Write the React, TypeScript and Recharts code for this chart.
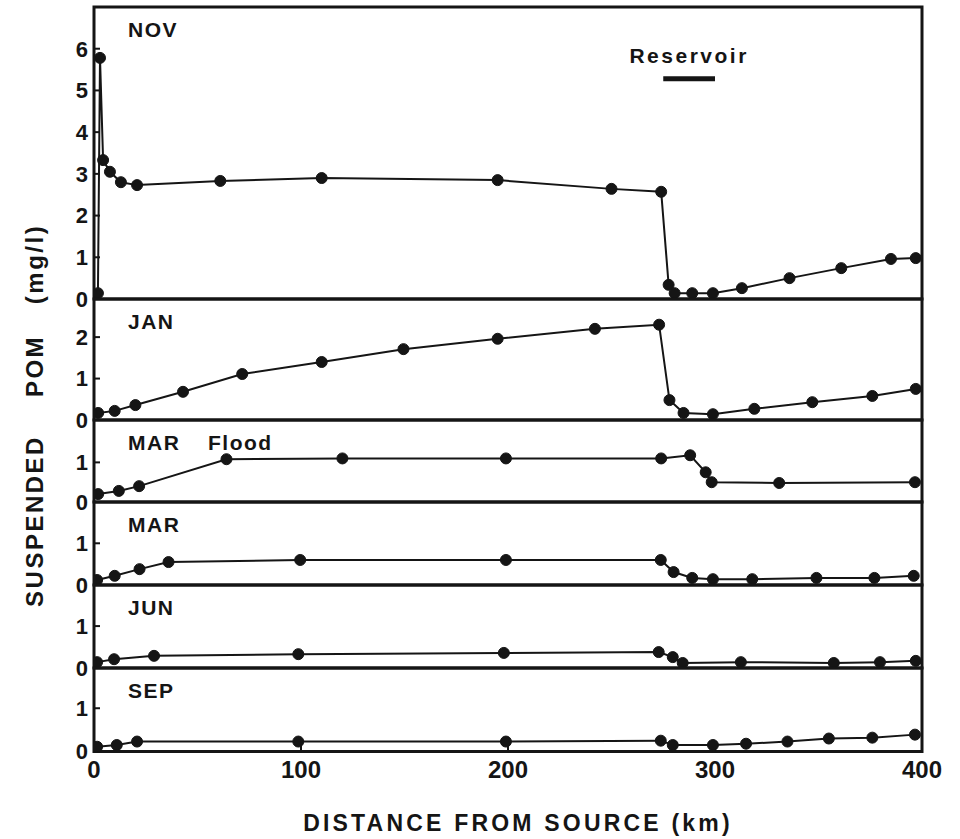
import React from "react";
import { LineChart, Line, XAxis, YAxis, ReferenceArea, ReferenceLine } from "recharts";

const INK = "#151515";
const FONT = '"Liberation Sans", Arial, sans-serif';

const xTicks = [0, 100, 200, 300, 400];

// suspended POM (mg/l) vs distance from source (km), one pair per survey
const novKm = [1.9, 2.9, 4.4, 7.7, 13, 20.8, 61, 110, 195, 250, 274, 277.6, 280.5, 289, 299, 313, 336, 361, 385, 397];
const novPom = [0.14, 5.78, 3.33, 3.05, 2.8, 2.73, 2.83, 2.9, 2.85, 2.64, 2.57, 0.34, 0.14, 0.14, 0.14, 0.26, 0.5, 0.74, 0.96, 0.98];

const janKm = [2, 10, 20, 43, 71.6, 110, 149.5, 195, 242, 273, 278, 284.8, 299, 319, 347, 376, 397];
const janPom = [0.17, 0.22, 0.36, 0.68, 1.11, 1.4, 1.71, 1.96, 2.2, 2.3, 0.48, 0.17, 0.14, 0.27, 0.43, 0.58, 0.75];

const marFloodKm = [2, 12, 21.8, 64, 120, 199, 274, 288, 295.5, 298.4, 331, 396.6];
const marFloodPom = [0.2, 0.28, 0.4, 1.08, 1.1, 1.1, 1.1, 1.18, 0.75, 0.5, 0.48, 0.5];

const marKm = [1.5, 10, 22, 36, 99.6, 199, 273.8, 280, 289, 299, 318, 349, 377, 396];
const marPom = [0.12, 0.22, 0.38, 0.55, 0.6, 0.6, 0.6, 0.31, 0.17, 0.14, 0.14, 0.17, 0.17, 0.22];

const junKm = [1.5, 9.7, 29, 98.7, 198, 272.8, 279.6, 284.4, 312.5, 357.4, 379.7, 397];
const junPom = [0.14, 0.21, 0.29, 0.33, 0.36, 0.38, 0.26, 0.12, 0.14, 0.12, 0.14, 0.17];

const sepKm = [1.5, 11, 20.8, 98.7, 199, 273.8, 279.6, 299, 315, 335, 355, 376, 396.6];
const sepPom = [0.11, 0.15, 0.23, 0.23, 0.23, 0.25, 0.15, 0.15, 0.18, 0.23, 0.3, 0.32, 0.39];

const reservoirFrom = 275;
const reservoirTo = 300;
const reservoirLevel = 5.28;

type PanelDef = {
  label: string;
  note?: string;
  km: number[];
  pom: number[];
  max: number;
  yTicks: number[];
  top: number;
  bottom: number;
};

const panels: PanelDef[] = [
  { label: "NOV", km: novKm, pom: novPom, max: 7, yTicks: [0, 1, 2, 3, 4, 5, 6], top: 7, bottom: 299 },
  { label: "JAN", km: janKm, pom: janPom, max: 2.92, yTicks: [0, 1, 2], top: 299, bottom: 420 },
  { label: "MAR", note: "Flood", km: marFloodKm, pom: marFloodPom, max: 2.07, yTicks: [0, 1], top: 420, bottom: 502 },
  { label: "MAR", km: marKm, pom: marPom, max: 1.99, yTicks: [0, 1], top: 502, bottom: 585 },
  { label: "JUN", km: junKm, pom: junPom, max: 1.98, yTicks: [0, 1], top: 585, bottom: 668 },
  { label: "SEP", km: sepKm, pom: sepPom, max: 1.93, yTicks: [0, 1], top: 668, bottom: 751.5 },
];

const PAD = 3;
const BELOW = 16; // room for the "0" label that hangs under each panel

function Panel({ p, index }: { p: PanelDef; index: number }) {
  const last = index === panels.length - 1;
  const data = p.km.map((km, i) => ({ km, pom: p.pom[i] }));
  const plotH = p.bottom - p.top;
  const axisH = last ? 44 : 0;
  return (
    <div style={{ position: "absolute", left: 0, top: p.top - PAD }}>
      <LineChart
        width={960}
        height={plotH + PAD + BELOW + axisH}
        data={data}
        margin={{ top: PAD, right: 38, bottom: BELOW, left: 0 }}
      >
        <XAxis
          dataKey="km"
          type="number"
          domain={[0, 400]}
          ticks={xTicks}
          interval={0}
          allowDataOverflow
          axisLine={false}
          tickSize={-6}
          tickMargin={15}
          tickLine={{ stroke: INK, strokeWidth: 2 }}
          height={axisH}
          tick={
            last
              ? { fontSize: 24, fill: INK, fontFamily: FONT, fontWeight: 700 }
              : false
          }
        />
        <YAxis
          type="number"
          domain={[0, p.max]}
          ticks={p.yTicks}
          interval={0}
          allowDataOverflow
          width={94}
          axisLine={false}
          tickSize={-6}
          tickMargin={12}
          tickLine={{ stroke: INK, strokeWidth: 2 }}
          tick={{ fontSize: 22, fill: INK, fontFamily: FONT, fontWeight: 700 }}
        />
        <ReferenceArea
          x1={0}
          x2={400}
          y1={0}
          y2={p.max}
          fill="none"
          stroke={INK}
          strokeWidth={3}
          ifOverflow="visible"
        />
        {index === 0 && (
          <ReferenceLine
            segment={[
              { x: reservoirFrom, y: reservoirLevel },
              { x: reservoirTo, y: reservoirLevel },
            ]}
            stroke={INK}
            strokeWidth={5}
            label={{
              value: "Reservoir",
              position: "top",
              offset: 16,
              fill: INK,
              fontSize: 21,
              fontWeight: 700,
              fontFamily: FONT,
              letterSpacing: 2.5,
            }}
          />
        )}
        <Line
          type="linear"
          dataKey="pom"
          stroke={INK}
          strokeWidth={2}
          dot={{ r: 5.5, fill: INK, stroke: INK, strokeWidth: 1 }}
          activeDot={false}
          isAnimationActive={false}
        />
      </LineChart>
    </div>
  );
}

export default function App() {
  const textStyle = { fontFamily: FONT, fontWeight: 700, fill: INK } as const;
  return (
    <div
      style={{
        position: "absolute",
        left: 0,
        top: 0,
        width: 960,
        height: 839,
        background: "#fff",
        overflow: "hidden",
      }}
    >
      {panels.map((p, i) => (
        <Panel key={i} p={p} index={i} />
      ))}
      <svg
        width={960}
        height={839}
        style={{ position: "absolute", left: 0, top: 0, pointerEvents: "none" }}
      >
        {panels.map((p, i) => (
          <g key={i}>
            <text x={128} y={p.top + 30} fontSize={21} letterSpacing={1.5} {...textStyle}>
              {p.label}
            </text>
            {p.note && (
              <text x={208} y={p.top + 30} fontSize={21} letterSpacing={1.5} {...textStyle}>
                {p.note}
              </text>
            )}
          </g>
        ))}
        <text x={518} y={831} fontSize={23} letterSpacing={3.2} textAnchor="middle" {...textStyle}>
          DISTANCE FROM SOURCE (km)
        </text>
        <text x={43} y={264} fontSize={24} letterSpacing={2.5} textAnchor="middle" transform="rotate(-90 43 264)" {...textStyle}>
          (mg/l)
        </text>
        <text x={43} y={366} fontSize={24} letterSpacing={2.5} textAnchor="middle" transform="rotate(-90 43 366)" {...textStyle}>
          POM
        </text>
        <text x={43} y={521} fontSize={24} letterSpacing={2.5} textAnchor="middle" transform="rotate(-90 43 521)" {...textStyle}>
          SUSPENDED
        </text>
      </svg>
    </div>
  );
}
